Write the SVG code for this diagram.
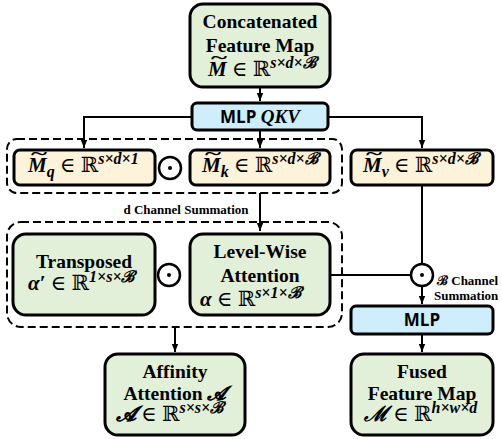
<svg xmlns="http://www.w3.org/2000/svg" width="502" height="439" viewBox="0 0 502 439">
<defs>
<marker id="ah" viewBox="0 0 10 10" refX="10" refY="5" markerWidth="4" markerHeight="4" orient="auto" markerUnits="strokeWidth"><path d="M0,1 L10,5 L0,9 Z" fill="#000"/></marker>
</defs>
<style>
.g{fill:#e2efd9;stroke:#000;stroke-width:3}
.y{fill:#fdf2da;stroke:#000;stroke-width:3}
.b{fill:#cdeefa;stroke:#000;stroke-width:3}
.d{fill:none;stroke:#000;stroke-width:2;stroke-dasharray:8,4}
.c{fill:none;stroke:#000;stroke-width:2}
.t{font-family:"Liberation Serif","DejaVu Serif",serif;font-weight:bold;font-size:19.5px;text-anchor:middle;fill:#000}
.m{font-family:"Liberation Serif","DejaVu Serif",serif;font-size:21px;fill:#000}
.v{font-weight:bold;font-style:italic}
.sup{font-size:16px;font-weight:bold;font-style:italic}
.tl{font-size:17px;font-weight:bold}
.s{font-family:"Liberation Serif","DejaVu Serif",serif;font-weight:bold;font-size:13px;fill:#000}
.mlp{font-family:"Open Sans","DejaVu Sans",sans-serif;font-weight:bold;font-size:17px;text-anchor:middle;fill:#000}
.od{fill:#fff;stroke:#000;stroke-width:2.5}
</style>
<g id="connectors">
<path class="c" d="M260,87 V101" marker-end="url(#ah)"/>
<path class="c" d="M192,117 H84 V148" marker-end="url(#ah)"/>
<path class="c" d="M260,130 V148" marker-end="url(#ah)"/>
<path class="c" d="M328,117 H422 V148" marker-end="url(#ah)"/>
<path class="c" d="M260,193 V231" marker-end="url(#ah)"/>
<path class="c" d="M422,186 V264"/>
<path class="c" d="M331,275 H411"/>
<path class="c" d="M422,286 V304" marker-end="url(#ah)"/>
<path class="c" d="M422,335 V352" marker-end="url(#ah)"/>
<path class="c" d="M175,327 V352" marker-end="url(#ah)"/>
</g>
<g id="group1"><rect class="d" x="7" y="139" width="335" height="54" rx="10"/></g>
<g id="group2"><rect class="d" x="7" y="222" width="335" height="105" rx="14"/></g>
<g id="concat">
<rect class="g" x="190" y="4" width="140" height="83" rx="13"/>
<text class="t" x="260" y="28">Concatenated</text>
<text class="t" x="260" y="52">Feature Map</text>
<text class="m"><tspan class="tl" x="211" y="63" textLength="16" lengthAdjust="spacingAndGlyphs">~</tspan><tspan class="v" x="208" y="76">M</tspan> ∈ ℝ<tspan class="sup" dy="-8">s×d×ℬ</tspan></text>
</g>
<g id="mlpqkv">
<rect class="b" x="192" y="103" width="136" height="27" rx="5"/>
<text class="mlp" x="260" y="123">MLP <tspan font-family="Liberation Serif,serif" font-style="italic" font-size="19">QKV</tspan></text>
</g>
<g id="mq">
<rect class="y" x="14" y="150" width="141" height="35" rx="6"/>
<text class="m"><tspan class="tl" x="31" y="159" textLength="16" lengthAdjust="spacingAndGlyphs">~</tspan><tspan class="v" x="28" y="172">M</tspan><tspan class="sup" dy="5">q</tspan><tspan dy="-5"> ∈ ℝ</tspan><tspan class="sup" dy="-8">s×d×1</tspan></text>
</g>
<g id="odot1"><circle class="od" cx="170" cy="168" r="11"/><circle cx="170" cy="168" r="2"/></g>
<g id="mk">
<rect class="y" x="190" y="150" width="140" height="35" rx="6"/>
<text class="m"><tspan class="tl" x="205" y="159" textLength="16" lengthAdjust="spacingAndGlyphs">~</tspan><tspan class="v" x="202" y="172">M</tspan><tspan class="sup" dy="5">k</tspan><tspan dy="-5"> ∈ ℝ</tspan><tspan class="sup" dy="-8">s×d×ℬ</tspan></text>
</g>
<g id="mv">
<rect class="y" x="351" y="150" width="142" height="35" rx="6"/>
<text class="m"><tspan class="tl" x="366" y="159" textLength="16" lengthAdjust="spacingAndGlyphs">~</tspan><tspan class="v" x="363" y="172">M</tspan><tspan class="sup" dy="5">v</tspan><tspan dy="-5"> ∈ ℝ</tspan><tspan class="sup" dy="-8">s×d×ℬ</tspan></text>
</g>
<text class="s" x="186" y="214" text-anchor="middle">d Channel Summation</text>
<g id="transposed">
<rect class="g" x="13" y="234" width="142" height="81" rx="13"/>
<text class="t" x="84" y="268">Transposed</text>
<text class="m" x="28" y="290"><tspan class="v">α′</tspan> ∈ ℝ<tspan class="sup" dy="-8">1×s×ℬ</tspan></text>
</g>
<g id="odot2"><circle class="od" cx="169" cy="275" r="11"/><circle cx="169" cy="275" r="2"/></g>
<g id="levelwise">
<rect class="g" x="190" y="234" width="140" height="81" rx="13"/>
<text class="t" x="260" y="258">Level-Wise</text>
<text class="t" x="260" y="282">Attention</text>
<text class="m" x="200" y="306"><tspan class="v">α</tspan> ∈ ℝ<tspan class="sup" dy="-8">s×1×ℬ</tspan></text>
</g>
<g id="odot3"><circle class="od" cx="422" cy="275" r="11"/><circle cx="422" cy="275" r="2"/></g>
<text class="s" x="437" y="285">ℬ Channel</text>
<text class="s" x="434" y="300">Summation</text>
<g id="mlp">
<rect class="b" x="351" y="306" width="142" height="28" rx="5"/>
<text class="mlp" x="422" y="326">MLP</text>
</g>
<g id="affinity">
<rect class="g" x="105" y="354" width="140" height="81" rx="13"/>
<text class="t" x="175" y="378">Affinity</text>
<text class="t" x="175" y="400">Attention <tspan font-style="italic">𝓐</tspan></text>
<text class="m" x="116" y="421"><tspan class="v">𝓐</tspan> ∈ ℝ<tspan class="sup" dy="-8">s×s×ℬ</tspan></text>
</g>
<g id="fused">
<rect class="g" x="351" y="354" width="142" height="81" rx="13"/>
<text class="t" x="422" y="378">Fused</text>
<text class="t" x="422" y="400">Feature Map</text>
<text class="m" x="364" y="421"><tspan class="v">ℳ</tspan> ∈ ℝ<tspan class="sup" dy="-8">h×w×d</tspan></text>
</g>
</svg>
